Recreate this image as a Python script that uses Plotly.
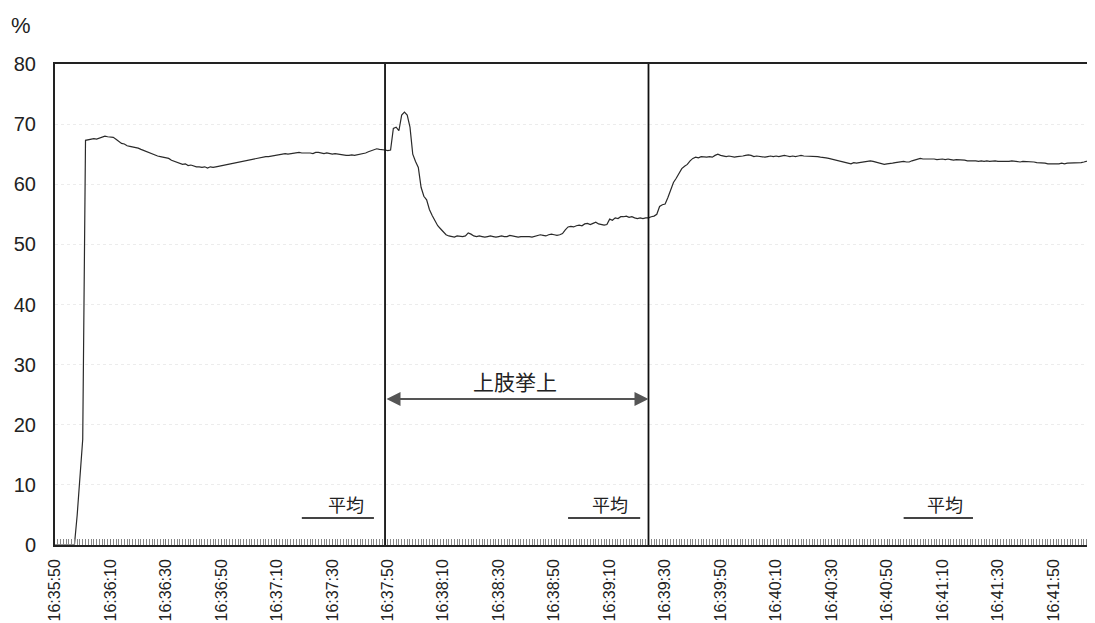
import pandas as pd
import plotly.graph_objects as go

# ---- data ----
start_time = "2024-01-01 16:35:50"
values = [
    0, 0, 0, 0, 0, 0, 0, 0, 5.0, 11.2,
    17.6, 67.3, 67.4, 67.4, 67.6, 67.5, 67.7, 67.9, 68.0, 67.9,
    67.8, 67.8, 67.5, 67.1, 66.8, 66.7, 66.4, 66.3, 66.2, 66.2,
    66.0, 65.8, 65.6, 65.4, 65.3, 65.0, 64.9, 64.7, 64.6, 64.5,
    64.4, 64.3, 64.0, 63.8, 63.6, 63.5, 63.3, 63.4, 63.1, 63.2,
    63.0, 62.9, 62.9, 62.8, 62.9, 62.7, 62.9, 62.8, 62.9, 63.0,
    63.1, 63.2, 63.2, 63.4, 63.5, 63.6, 63.7, 63.8, 63.9, 64.0,
    64.1, 64.2, 64.3, 64.3, 64.4, 64.5, 64.6, 64.6, 64.7, 64.8,
    64.9, 64.9, 65.0, 65.1, 65.0, 65.1, 65.2, 65.3, 65.3, 65.2,
    65.2, 65.3, 65.2, 65.1, 65.3, 65.3, 65.2, 65.1, 65.2, 65.1,
    65.0, 65.1, 65.0, 65.0, 64.9, 64.8, 64.8, 64.9, 64.8, 64.9,
    64.9, 65.0, 65.2, 65.4, 65.6, 65.8, 65.9, 65.8, 65.8, 65.7,
    65.6, 65.7, 69.3, 69.5, 68.9, 71.5, 72.0, 71.5, 69.5, 65.0,
    63.8, 62.8, 59.5, 58.0, 57.4, 55.8, 54.8, 53.9, 53.1, 52.6,
    52.0, 51.6, 51.4, 51.3, 51.2, 51.4, 51.3, 51.3, 51.4, 51.9,
    51.7, 51.4, 51.3, 51.4, 51.3, 51.2, 51.3, 51.4, 51.3, 51.2,
    51.3, 51.4, 51.3, 51.3, 51.5, 51.4, 51.3, 51.2, 51.3, 51.3,
    51.4, 51.3, 51.2, 51.3, 51.4, 51.6, 51.5, 51.4, 51.6, 51.7,
    51.6, 51.5, 51.6, 51.8, 52.4, 52.9, 53.0, 52.9, 53.1, 53.2,
    53.1, 53.4, 53.5, 53.3, 53.5, 53.7, 53.4, 53.3, 53.2, 53.3,
    54.2, 54.0, 54.4, 54.3, 54.6, 54.6, 54.7, 54.5, 54.6, 54.4,
    54.3, 54.4, 54.3, 54.4, 54.4, 54.6, 54.7, 55.0, 56.3, 56.6,
    56.7, 57.8, 59.2, 60.3, 61.0, 61.8, 62.6, 63.0, 63.3, 63.9,
    64.3, 64.5, 64.4, 64.6, 64.5, 64.5, 64.6, 64.5, 64.8, 65.0,
    64.8, 64.7, 64.6, 64.7, 64.6, 64.5, 64.6, 64.6, 64.7, 64.8,
    64.9, 64.8, 64.6, 64.7, 64.6, 64.5, 64.5, 64.6, 64.7, 64.6,
    64.7, 64.6, 64.7, 64.8, 64.7, 64.6, 64.7, 64.6, 64.7, 64.8,
    64.7, 64.7, 64.6, 64.7, 64.6, 64.6, 64.5, 64.5, 64.4, 64.3,
    64.2, 64.1, 64.0, 63.9, 63.8, 63.7, 63.6, 63.4, 63.6, 63.5,
    63.6, 63.7, 63.8, 63.9, 63.9, 63.8, 63.7, 63.6, 63.5, 63.3,
    63.4, 63.4, 63.5, 63.6, 63.7, 63.7, 63.8, 63.7, 63.7, 63.9,
    64.0, 64.1, 64.3, 64.2, 64.2, 64.3, 64.2, 64.2, 64.1, 64.2,
    64.2, 64.1, 64.2, 64.1, 64.0, 64.1, 64.1, 64.0, 64.0, 63.9,
    63.9, 64.0, 63.9, 63.8, 63.9, 63.8, 63.9, 63.8, 63.9, 63.9,
    63.8, 63.8, 63.7, 63.8, 63.8, 63.9, 63.8, 63.8, 63.7, 63.8,
    63.8, 63.7, 63.8, 63.7, 63.6, 63.6, 63.5, 63.5, 63.4, 63.4,
    63.3, 63.4, 63.4, 63.5, 63.4, 63.5, 63.5, 63.6, 63.6, 63.5,
    63.6, 63.7, 63.8, 63.9, 64.0, 64.2,
]
times = pd.date_range(start=start_time, periods=len(values), freq="1s")

phase_start = "2024-01-01 16:37:49"
phase_end = "2024-01-01 16:39:24"
phase_label = "上肢挙上"
phase_label_time = "2024-01-01 16:38:36"
phase_label_value = 27.3
arrow_value = 24.3

avg_label = "平均"
avg_starts = ["2024-01-01 16:37:19", "2024-01-01 16:38:55", "2024-01-01 16:40:56"]
avg_ends = ["2024-01-01 16:37:45", "2024-01-01 16:39:21", "2024-01-01 16:41:21"]
avg_text_times = ["2024-01-01 16:37:35", "2024-01-01 16:39:10", "2024-01-01 16:41:11"]
avg_line_value = 4.5
avg_text_value = 6.9

y_unit = "%"
y_range = [0, 80]
x_range = [times[0], times[-1]]

# ---- figure ----
fig = go.Figure()
fig.add_trace(go.Scatter(
    x=times, y=values, mode="lines",
    line=dict(color="#2a2a2a", width=1.2),
    showlegend=False, hoverinfo="skip",
))

shapes = []
for t in (phase_start, phase_end):
    shapes.append(dict(type="line", xref="x", yref="y", x0=t, x1=t, y0=0, y1=80,
                       line=dict(color="#111111", width=1.8)))
for a, b in zip(avg_starts, avg_ends):
    shapes.append(dict(type="line", xref="x", yref="y", x0=a, x1=b,
                       y0=avg_line_value, y1=avg_line_value,
                       line=dict(color="#444444", width=2)))

annotations = [
    dict(x=phase_end, y=arrow_value, ax=phase_start, ay=arrow_value,
         xref="x", yref="y", axref="x", ayref="y", text="", showarrow=True,
         arrowhead=2, startarrowhead=2, arrowside="end+start", arrowsize=1.4,
         startarrowsize=1.4, arrowwidth=2, arrowcolor="#555555"),
    dict(x=phase_label_time, y=phase_label_value, xref="x", yref="y",
         text=phase_label, showarrow=False,
         font=dict(family="Noto Sans CJK JP", size=21, color="#222222")),
    dict(x=-0.044, y=1.08, xref="paper", yref="paper", text=y_unit,
         xanchor="left", yanchor="middle",
         showarrow=False, font=dict(family="Liberation Sans, Arial", size=22, color="#222222")),
]
for t in avg_text_times:
    annotations.append(dict(x=t, y=avg_text_value, xref="x", yref="y", text=avg_label,
                            showarrow=False,
                            font=dict(family="Noto Sans CJK JP", size=18, color="#222222")))

fig.update_layout(
    width=1087, height=615,
    margin=dict(l=47, r=0, t=56, b=78, autoexpand=False),
    paper_bgcolor="white", plot_bgcolor="white",
    shapes=shapes, annotations=annotations,
    font=dict(family="Liberation Sans, Arial", color="#222222"),
)
fig.update_xaxes(
    type="date", range=x_range, tickformat="%H:%M:%S",
    tick0=start_time, dtick=20000, tickangle=-90,
    tickfont=dict(size=16, color="#222222"),
    ticks="inside", ticklen=6, tickcolor="#777777", tickwidth=1,
    ticklabelstandoff=6,
    minor=dict(ticks="inside", dtick=1000, ticklen=6, tickcolor="#888888", tickwidth=1, showgrid=False),
    showline=True, linecolor="#222222", linewidth=1.5, mirror=True,
    showgrid=False, zeroline=False, automargin=False,
)
fig.update_yaxes(
    range=y_range, dtick=10, tick0=0,
    tickfont=dict(size=20, color="#222222"),
    ticks="", ticklabelstandoff=13,
    showline=True, linecolor="#222222", linewidth=2,
    showgrid=True, gridcolor="#ececec", griddash="dot", gridwidth=1,
    zeroline=False, automargin=False,
)

fig.write_html("out.html")
